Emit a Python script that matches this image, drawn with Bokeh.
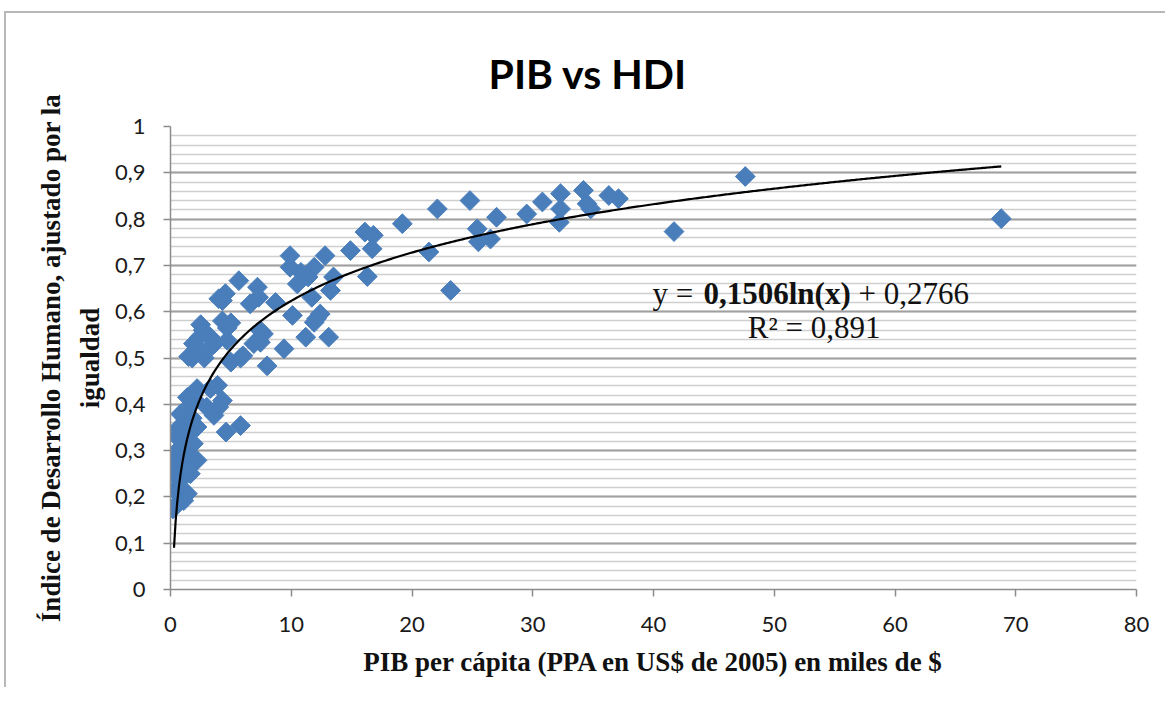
import numpy as np
from bokeh.plotting import figure
from bokeh.models import Range1d, SingleIntervalTicker, CustomJSTickFormatter, Label, ColumnDataSource, Title
from bokeh.embed import file_html
from bokeh.resources import INLINE

# ---- data ----
pib = [
    68.8, 47.6, 41.7, 37.1, 36.3, 34.8, 34.5, 34.2, 32.2, 32.3, 32.3, 30.8, 29.5, 27.0,
    26.5, 25.5, 25.4, 24.8, 23.2, 22.1, 21.4, 19.2, 16.8, 16.1, 16.7, 14.9, 16.3, 12.8,
    9.9, 9.9, 10.8, 11.9, 11.4, 10.5, 13.5, 13.25, 11.7, 8.7, 7.2, 7.3, 6.6, 10.1, 12.4,
    11.9, 11.2, 13.1, 9.4, 7.7, 8.0, 6.9, 12.1,
    5.66, 4.55, 4.0, 4.3, 4.3, 2.5, 2.7, 3.3, 4.7, 4.7, 5.0, 1.9, 1.5, 2.8, 2.2, 3.0,
    5.0, 5.8, 6.0, 7.45, 7.45, 3.6, 2.4, 1.8,
    2.2, 3.3, 3.9, 2.0, 4.3, 3.0, 4.0, 3.6, 4.6, 5.8, 1.4, 1.7, 0.83, 1.2, 0.41, 0.7,
    2.2, 1.5, 1.9, 1.0, 2.2, 1.4, 0.6, 1.65, 0.28, 0.5, 1.0, 0.3, 0.8, 0.3, 1.4, 1.1,
    0.6, 0.2, 0.55, 1.2, 1.8,
]
hdi = [
    0.801, 0.892, 0.773, 0.844, 0.851, 0.822, 0.833, 0.862, 0.793, 0.822, 0.855, 0.837, 0.811, 0.804,
    0.757, 0.751, 0.779, 0.840, 0.646, 0.822, 0.729, 0.790, 0.765, 0.772, 0.736, 0.732, 0.676, 0.721,
    0.721, 0.696, 0.685, 0.696, 0.675, 0.660, 0.675, 0.646, 0.631, 0.620, 0.653, 0.631, 0.617, 0.592, 0.595,
    0.577, 0.545, 0.545, 0.520, 0.552, 0.483, 0.531, 0.585,
    0.667, 0.639, 0.628, 0.624, 0.580, 0.572, 0.560, 0.545, 0.565, 0.538, 0.576, 0.531, 0.503, 0.500, 0.520, 0.515,
    0.491, 0.500, 0.505, 0.559, 0.534, 0.530, 0.545, 0.500,
    0.434, 0.434, 0.441, 0.410, 0.408, 0.394, 0.394, 0.376, 0.340, 0.354, 0.415, 0.400, 0.379, 0.370, 0.333, 0.350,
    0.351, 0.340, 0.315, 0.320, 0.279, 0.286, 0.300, 0.250, 0.293, 0.270, 0.260, 0.250, 0.235, 0.214, 0.207, 0.192,
    0.220, 0.174, 0.185, 0.300, 0.370,
]
trend_a = 0.1506
trend_b = 0.2766
trend_x_start = 0.29
trend_x_end = 68.8

x_ticks_interval = 10
y_ticks_interval = 0.1

title_text = "PIB vs HDI"
x_title = "PIB per cápita (PPA en US$ de 2005) en miles de $"
y_title_1 = "Índice de Desarrollo Humano, ajustado por la"
y_title_2 = "igualdad"

serif = "Liberation Serif"

# ---- figure ----
p = figure(width=1161, height=676, x_range=Range1d(0, 80), y_range=Range1d(0, 1),
           output_backend="svg", toolbar_location=None, title=title_text,
           min_border_left=164, min_border_right=31, min_border_top=113, min_border_bottom=100)
p.styles = {"margin-left": "4px", "margin-top": "11px",
            "border-left": "2px solid #b8b8b8", "border-top": "2px solid #b8b8b8"}
p.outline_line_color = None
p.background_fill_color = "white"
p.border_fill_color = "white"

# title
p.title.align = "left"
p.title.vertical_align = "top"
p.title.offset = 318
p.title.standoff = 54
p.title.text_font = "Lato"
p.title.text_font_size = "41px"
p.title.text_font_style = "bold"
p.title.text_color = "black"

# axes
p.xaxis.ticker = SingleIntervalTicker(interval=x_ticks_interval, num_minor_ticks=0)
p.yaxis.ticker = SingleIntervalTicker(interval=y_ticks_interval, num_minor_ticks=5)
p.xaxis.formatter = CustomJSTickFormatter(code="return Math.round(tick).toString();")
p.yaxis.formatter = CustomJSTickFormatter(
    code="const s = (Math.round(tick*10)/10).toString(); return s.replace('.', ',');")
for ax in (p.xaxis, p.yaxis):
    ax.axis_line_color = "#8c8c8c"
    ax.axis_line_width = 1.5
    ax.major_tick_line_color = "#8c8c8c"
    ax.major_tick_line_width = 1.5
    ax.major_tick_out = 7
    ax.major_tick_in = 0
    ax.minor_tick_line_color = None
    ax.major_label_text_font = "Lato"
    ax.major_label_text_font_size = "22px"
    ax.major_label_text_color = "#1a1a1a"
p.yaxis.major_label_standoff = 18
p.xaxis.major_label_standoff = 20

p.xaxis.axis_label = x_title
p.xaxis.axis_label_text_font = serif
p.xaxis.axis_label_text_font_size = "27px"
p.xaxis.axis_label_text_font_style = "bold"
p.xaxis.axis_label_text_color = "#111111"
p.xaxis.axis_label_standoff = 12

# y axis title: two lines, as stacked left titles
t2 = Title(text=y_title_2, align="center", offset=-43, standoff=14, text_font=serif,
           text_font_size="27px", text_font_style="bold", text_color="#111111")
t1 = Title(text=y_title_1, align="center", offset=-43, standoff=0, text_font=serif,
           text_font_size="27px", text_font_style="bold", text_color="#111111")
p.add_layout(t2, "left")
p.add_layout(t1, "left")

# grid
p.xgrid.grid_line_color = None
p.ygrid.grid_line_color = "#a0a0a0"
p.ygrid.grid_line_width = 2
p.ygrid.minor_grid_line_color = "#cfcfcf"
p.ygrid.minor_grid_line_width = 1.5

# scatter
src = ColumnDataSource(dict(x=pib, y=hdi))
p.scatter("x", "y", source=src, marker="square", size=14, angle=np.pi / 4,
          fill_color="#4a7ebb", line_color="#4a7ebb", line_width=1)

# trend line from the equation shown on the chart
tx = np.linspace(trend_x_start, trend_x_end, 500)
ty = trend_a * np.log(tx) + trend_b
p.line(tx, ty, line_color="black", line_width=2.2)

# equation labels
p.add_layout(Label(x=39.92, y=0.639, text="y =", text_font=serif, text_font_size="31px",
                   text_color="#111111", text_baseline="alphabetic", text_align="left"))
p.add_layout(Label(x=44.14, y=0.639, text="0,1506ln(x)", text_font=serif, text_font_size="31px",
                   text_font_style="bold", text_color="#111111", text_baseline="alphabetic", text_align="left"))
p.add_layout(Label(x=56.98, y=0.639, text="+ 0,2766", text_font=serif, text_font_size="31px",
                   text_color="#111111", text_baseline="alphabetic", text_align="left"))
p.add_layout(Label(x=53.3, y=0.566, text="R² = 0,891", text_font=serif, text_font_size="31px",
                   text_color="#111111", text_baseline="alphabetic", text_align="center"))

open("out.html", "w").write(file_html(p, INLINE))
